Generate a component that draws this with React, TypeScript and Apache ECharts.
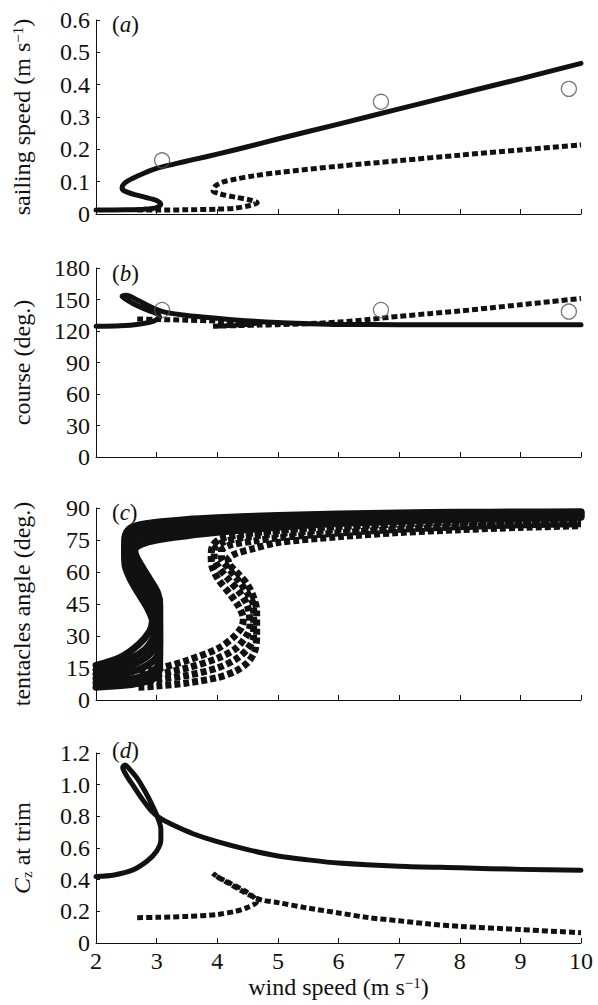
import React, { useEffect, useRef } from 'react';
import * as echarts from 'echarts';

// ---------- data (wind speed, value) ----------
const aSolid = [[2,0.012],[2.5,0.013],[2.8,0.015],[3.0,0.02],[3.07,0.03],[3.0,0.042],[2.8,0.052],[2.6,0.062],[2.47,0.071],[2.43,0.08],[2.47,0.095],[2.6,0.11],[2.8,0.127],[3.0,0.141],[3.3,0.155],[3.6,0.168],[4,0.185],[4.5,0.208],[5,0.232],[6,0.278],[7,0.325],[8,0.372],[9,0.418],[10,0.466]];
const aDashed = [[2.68,0.012],[3,0.012],[3.5,0.013],[4,0.015],[4.3,0.018],[4.55,0.027],[4.66,0.035],[4.55,0.043],[4.3,0.052],[4.05,0.062],[3.93,0.072],[3.97,0.087],[4.1,0.099],[4.3,0.108],[4.6,0.118],[5,0.128],[6,0.148],[7,0.165],[8,0.182],[9,0.198],[10,0.214]];
const aObs = [[3.09,0.166],[6.7,0.347],[9.8,0.387]];

const bSolid = [[2,124.5],[2.4,125],[2.7,126.5],[2.95,129.5],[3.05,133],[3.0,136.5],[2.8,141],[2.6,146.5],[2.47,151],[2.43,153],[2.5,154],[2.7,149],[2.9,143],[3.1,138.5],[3.4,135.5],[3.8,133],[4.3,130.5],[5,128],[5.5,127],[6,126.3],[7,126],[8,126],[9,126],[10,126]];
const bDashed = [[2.68,131.5],[3,131],[3.5,130.3],[4,129.5],[4.4,128.5],[4.65,127.5],[4.4,126],[4.1,125],[3.93,124.5],[4.1,124.8],[4.4,125.2],[4.7,125.6],[5,126],[5.5,127],[6,128.5],[6.5,131],[7,134],[7.5,136.5],[8,139],[8.5,142],[9,145],[9.5,148],[10,151]];
const bObs = [[3.09,140],[6.7,140],[9.8,138.5]];

const cSolid1 = [[2,6],[2.5,7],[2.8,8.5],[3.0,11],[3.05,16],[3.05,30],[3.05,44],[3.02,50],[2.9,56],[2.77,62],[2.66,67.5],[2.64,70.5],[2.75,73],[3,75],[3.5,77],[4,78.6],[5,81],[6,82.7],[7,83.8],[8,84.6],[9,85.2],[10,85.7]];
const cSolid2 = [[2,8],[2.5,9.5],[2.8,11.5],[3.0,15],[3.05,21],[3.05,46],[2.97,52],[2.84,58],[2.7,64],[2.6,69],[2.58,72.5],[2.68,75.5],[3,77.3],[3.5,79],[4,80.3],[5,82.3],[6,83.8],[7,84.7],[8,85.4],[9,85.9],[10,86.2]];
const cSolid3 = [[2,10],[2.5,12.5],[2.8,15.5],[3.0,20],[3.05,26],[3.04,45],[2.93,51],[2.78,58],[2.64,64],[2.54,70],[2.52,74],[2.62,77.5],[2.95,79.5],[3.5,81],[4,82],[5,83.7],[6,84.8],[7,85.6],[8,86.2],[9,86.6],[10,86.8]];
const cSolid4 = [[2,12],[2.5,15.5],[2.8,19.5],[2.98,25],[3.03,31],[3.0,44],[2.88,51],[2.72,58],[2.58,64],[2.5,70],[2.49,75],[2.58,79],[2.9,81.3],[3.5,82.7],[4,83.5],[5,85],[6,85.9],[7,86.5],[8,87],[9,87.3],[10,87.4]];
const cSolid5 = [[2,14],[2.5,18.5],[2.8,23.5],[2.96,30],[2.99,36],[2.93,44],[2.8,51],[2.64,58],[2.52,64],[2.48,70],[2.48,76],[2.56,80],[2.85,82.5],[3.5,84],[4,84.7],[5,85.8],[6,86.6],[7,87.1],[8,87.5],[9,87.8],[10,87.9]];
const cSolid6 = [[2,16.2],[2.4,20],[2.7,26],[2.88,32],[2.93,37],[2.85,43],[2.7,50],[2.56,57],[2.48,63],[2.47,70],[2.48,76.5],[2.56,80.5],[2.85,82.8],[3.5,84.6],[4,85.4],[5,86.5],[6,87.2],[7,87.7],[8,88],[9,88.1],[10,88.2]];
const cDashed1 = [[2.7,6],[3,6.5],[3.5,8],[4,10.5],[4.3,13.5],[4.5,17.5],[4.62,23],[4.65,30],[4.65,42],[4.6,48],[4.5,54],[4.35,59],[4.2,63.5],[4.18,66],[4.3,68.5],[4.6,71],[5,73.8],[6,76.5],[7,78.5],[8,79.8],[9,80.9],[10,81.7]];
const cDashed2 = [[2.7,8.5],[3,9.5],[3.5,11.5],[4,15],[4.3,19],[4.5,24],[4.6,30],[4.6,44],[4.5,50],[4.35,56],[4.18,62],[4.07,66.5],[4.07,70],[4.2,72.5],[4.6,74.5],[5,76],[6,78.3],[7,80],[8,81.2],[9,82.1],[10,82.6]];
const cDashed3 = [[2.7,10.5],[3,12],[3.5,15],[4,19.5],[4.3,24],[4.48,30],[4.54,35],[4.5,44],[4.38,50],[4.2,56],[4.03,62],[3.95,66.5],[3.96,71],[4.1,74],[4.5,76.5],[5,78],[6,80],[7,81.4],[8,82.4],[9,83.1],[10,83.5]];
const cDashed4 = [[2.72,12.8],[3,14.5],[3.5,18.5],[4,24],[4.25,29],[4.4,34],[4.43,38],[4.35,44],[4.2,50],[4.03,56],[3.92,62],[3.9,67],[3.92,72],[4.05,75.5],[4.4,77.5],[5,79.5],[6,81.3],[7,82.5],[8,83.3],[9,83.8],[10,84.1]];

const dSolid = [[2,0.42],[2.3,0.43],[2.6,0.46],[2.85,0.52],[3.0,0.58],[3.07,0.65],[3.07,0.72],[3.02,0.79],[2.94,0.86],[2.82,0.95],[2.68,1.04],[2.55,1.1],[2.48,1.125],[2.44,1.11],[2.5,1.06],[2.62,0.99],[2.76,0.91],[2.9,0.84],[3.05,0.79],[3.3,0.74],[3.6,0.69],[4,0.64],[4.5,0.59],[5,0.55],[5.5,0.525],[6,0.505],[7,0.485],[8,0.475],[9,0.465],[10,0.46]];
const dDashed = [[2.68,0.16],[3,0.162],[3.5,0.168],[4,0.18],[4.3,0.2],[4.5,0.225],[4.65,0.26],[4.6,0.29],[4.45,0.33],[4.2,0.38],[4.0,0.42],[3.93,0.44],[3.97,0.425],[4.15,0.385],[4.4,0.33],[4.6,0.29],[4.75,0.27],[5,0.255],[5.5,0.22],[6,0.19],[6.5,0.16],[7,0.14],[7.5,0.12],[8,0.105],[9,0.085],[10,0.065]];

const PANEL_LABELS = ['a', 'b', 'c', 'd'];
const Y_NAMES = [
  '{n|sailing speed (m s}{sup|−1}{n|)}',
  '{n|course (deg.)}',
  '{n|tentacles angle (deg.)}',
  '{i|C}{sub|z}{n| at trim}',
];
const X_NAME = '{n|wind speed (m s}{sup|−1}{n|)}';

const FONT = "'Liberation Serif', 'Times New Roman', serif";
const INK = '#111';

const rich = (size: number) => ({
  n: { fontFamily: FONT, fontSize: size, color: INK, fontWeight: 'normal' },
  i: { fontFamily: FONT, fontSize: size, color: INK, fontStyle: 'italic', fontWeight: 'normal' },
  sup: { fontFamily: FONT, fontSize: Math.round(size * 0.62), color: INK, fontWeight: 'normal', verticalAlign: 'top', lineHeight: 12 },
  sub: { fontFamily: FONT, fontSize: Math.round(size * 0.62), color: INK, fontWeight: 'normal', verticalAlign: 'bottom', lineHeight: 12 },
});

export default function App() {
  const ref = useRef<HTMLDivElement>(null);
  useEffect(() => {
    if (!ref.current) return;
    const chart = echarts.init(ref.current, undefined, { renderer: 'svg' });
    const grids = [
      { left: 96, top: 20, width: 485, height: 194 },
      { left: 96, top: 268, width: 485, height: 189 },
      { left: 96, top: 508, width: 485, height: 192 },
      { left: 96, top: 753, width: 485, height: 190 },
    ];
    const yCfg = [
      { min: 0, max: 0.6, interval: 0.1, fmt: (v: number) => (v === 0 ? '0' : v.toFixed(1)) },
      { min: 0, max: 180, interval: 30, fmt: (v: number) => String(v) },
      { min: 0, max: 90, interval: 15, fmt: (v: number) => String(v) },
      { min: 0, max: 1.2, interval: 0.2, fmt: (v: number) => (v === 0 ? '0' : v.toFixed(1)) },
    ];
    const axisLine = { show: true, lineStyle: { color: INK, width: 1 } };
    const xAxis = grids.map((_, i) => ({
      type: 'value', gridIndex: i, min: 2, max: 10, interval: 1,
      axisLine, splitLine: { show: false },
      axisTick: { show: true, inside: true, length: 5, lineStyle: { color: INK } },
      axisLabel: { show: i === 3, margin: 6, fontFamily: FONT, fontSize: 24, color: INK },
      name: i === 3 ? X_NAME : '', nameLocation: 'middle', nameGap: 32,
      nameTextStyle: { rich: rich(24) },
    }));
    const yAxis = grids.map((_, i) => ({
      type: 'value', gridIndex: i, min: yCfg[i].min, max: yCfg[i].max, interval: yCfg[i].interval,
      axisLine, splitLine: { show: false },
      axisTick: { show: true, inside: true, length: 4, lineStyle: { color: INK } },
      axisLabel: { margin: 6, fontFamily: FONT, fontSize: 24, color: INK, formatter: yCfg[i].fmt },
      name: Y_NAMES[i], nameLocation: 'middle', nameGap: 62, nameRotate: 90,
      nameTextStyle: { rich: rich(24) },
    }));
    const line = (data: number[][], idx: number, dashed: boolean, width = 5) => ({
      type: 'line', xAxisIndex: idx, yAxisIndex: idx, data,
      showSymbol: false, symbol: 'none', smooth: 0.3, z: dashed ? 2 : 3,
      lineStyle: dashed
        ? { color: INK, width, type: [6, 3], cap: 'butt', join: 'miter' }
        : { color: INK, width, type: 'solid', cap: 'round', join: 'round' },
    });
    const obs = (data: number[][], idx: number) => ({
      type: 'scatter', xAxisIndex: idx, yAxisIndex: idx, data, symbol: 'circle', symbolSize: 15, z: 5,
      itemStyle: { color: 'rgba(0,0,0,0)', borderColor: '#555', borderWidth: 1.3 },
    });
    const titleTops = [8, 257, 496, 734];
    const option = {
      animation: false,
      backgroundColor: '#fff',
      title: PANEL_LABELS.map((l, i) => ({
        text: `{n|(}{i|${l}}{n|)}`, left: 107, top: titleTops[i],
        textStyle: { fontWeight: 'normal', rich: rich(23) },
      })),
      grid: grids,
      xAxis, yAxis,
      series: [
        line(aDashed, 0, true), line(aSolid, 0, false), obs(aObs, 0),
        line(bDashed, 1, true), line(bSolid, 1, false), obs(bObs, 1),
        line(cDashed1, 2, true, 7), line(cDashed2, 2, true, 7), line(cDashed3, 2, true, 7), line(cDashed4, 2, true, 7),
        line(cSolid1, 2, false, 7), line(cSolid2, 2, false, 7), line(cSolid3, 2, false, 7),
        line(cSolid4, 2, false, 7), line(cSolid5, 2, false, 7), line(cSolid6, 2, false, 7),
        line(dDashed, 3, true), line(dSolid, 3, false),
      ],
    };
    chart.setOption(option as any);
    return () => chart.dispose();
  }, []);
  return <div ref={ref} style={{ position: 'absolute', left: 0, top: 0, width: 598, height: 1005 }} />;
}
